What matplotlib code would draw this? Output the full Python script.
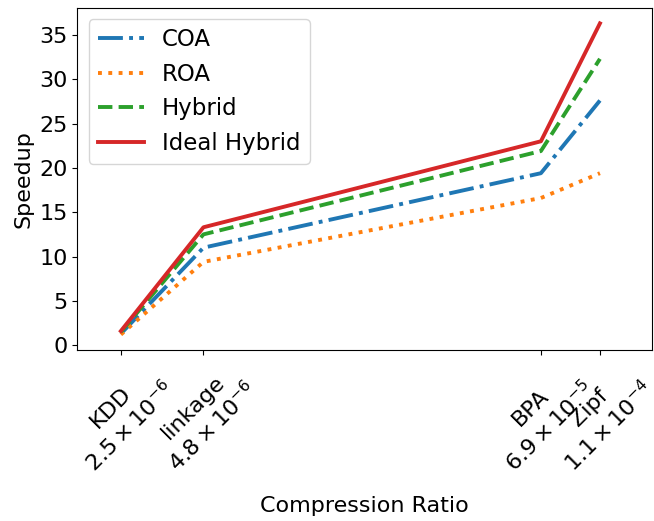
import matplotlib
matplotlib.use("Agg")
import matplotlib.pyplot as plt

# compression ratio of each dataset (x positions, log scale)
datasets = ["KDD", "linkage", "BPA", "Zipf"]
ratios = [2.5e-6, 4.8e-6, 6.9e-5, 1.1e-4]
ratio_labels = [r"$2.5\times10^{-6}$", r"$4.8\times10^{-6}$",
                r"$6.9\times10^{-5}$", r"$1.1\times10^{-4}$"]

# speedup per method
coa = [1.3, 11.0, 19.4, 27.6]
roa = [1.2, 9.4, 16.6, 19.4]
hybrid = [1.5, 12.5, 21.9, 32.3]
ideal_hybrid = [1.6, 13.3, 23.0, 36.3]
speedup_ticks = [0, 5, 10, 15, 20, 25, 30, 35]

plt.rcParams["font.size"] = 16

fig, ax = plt.subplots(figsize=(6.54, 5.21), dpi=100)
lw = 2.8
ax.plot(ratios, coa, "-.", color="tab:blue", lw=lw, label="COA")
ax.plot(ratios, roa, ":", color="tab:orange", lw=lw, label="ROA")
ax.plot(ratios, hybrid, "--", color="tab:green", lw=lw, label="Hybrid")
ax.plot(ratios, ideal_hybrid, "-", color="tab:red", lw=lw, label="Ideal Hybrid")

ax.set_xscale("log")
ax.set_xlim(1.77e-6, 1.66e-4)
ax.minorticks_off()
ax.set_xticks(ratios)
ax.set_xticklabels([d + "\n" + r for d, r in zip(datasets, ratio_labels)],
                   rotation=45, ha="center", fontsize=16)
ax.set_yticks(speedup_ticks)
ax.tick_params(axis="y", labelsize=16)
ax.set_xlabel("Compression Ratio", fontsize=16, labelpad=14)
ax.set_ylabel("Speedup", fontsize=16)
ax.legend(loc="upper left", fontsize=16.5)

fig.subplots_adjust(left=0.118, right=0.997, top=0.985, bottom=0.328)
fig.savefig("out.png")
